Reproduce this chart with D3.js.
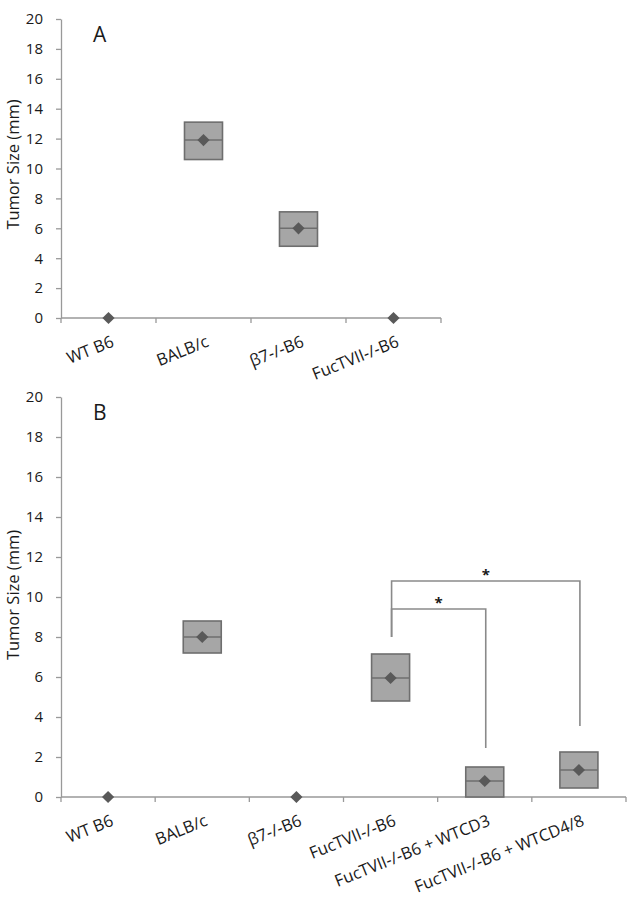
<!DOCTYPE html>
<html>
<head>
<meta charset="utf-8">
<script src="https://cdn.jsdelivr.net/npm/d3@7"></script>
<style>
  body { margin: 0; background: #fff; }
  text { font-family: "Open Sans", sans-serif; fill: #1a1a1a; }
</style>
</head>
<body>
<div id="chart"></div>
<script>
// Panel A data
var groupsA = ["WT B6", "BALB/c", "β7-/-B6", "FucTVII-/-B6"];
var meanA = [0, 11.9, 6.0, 0];
var upperA = [0, 13.1, 7.1, 0];
var lowerA = [0, 10.6, 4.8, 0];

// Panel B data
var groupsB = ["WT B6", "BALB/c", "β7-/-B6", "FucTVII-/-B6",
  "FucTVII-/-B6 + WTCD3", "FucTVII-/-B6 + WTCD4/8"];
var meanB = [0, 8.0, 0, 5.95, 0.8, 1.35];
var upperB = [0, 8.8, 0, 7.15, 1.5, 2.25];
var lowerB = [0, 7.2, 0, 4.8, 0, 0.45];

// Significance brackets in panel B (group indexes and values)
var bracketFrom = [3, 3];
var bracketTo = [4, 5];
var bracketTop = [9.4, 10.8];
var bracketLeft = [8.0, 8.0];
var bracketRight = [2.45, 3.55];

var yTicks = [0, 2, 4, 6, 8, 10, 12, 14, 16, 18, 20];

var width = 629, height = 900;
var axisColor = "#999";

var svg = d3.select("#chart").append("svg")
  .attr("width", width)
  .attr("height", height);

// Draw one panel and return its scales
function drawPanel(opts) {
  var g = svg.append("g");

  var x = d3.scaleBand()
    .domain(opts.groups)
    .range([opts.left, opts.right])
    .padding(0);

  var y = d3.scaleLinear()
    .domain([0, 20])
    .range([opts.bottom, opts.top]);

  // y axis
  var yAxis = g.append("g")
    .attr("transform", "translate(" + opts.left + ",0)")
    .call(d3.axisLeft(y).tickValues(yTicks).tickSize(5).tickSizeOuter(0).tickPadding(13));
  yAxis.select(".domain").attr("stroke", axisColor).attr("stroke-width", 1.3);
  yAxis.selectAll(".tick line").attr("stroke", axisColor).attr("stroke-width", 1.3);
  yAxis.selectAll(".tick text")
    .attr("font-family", "Open Sans, sans-serif")
    .attr("font-size", 15)
    .attr("fill", "#1a1a1a");

  // x axis line and ticks at band edges
  g.append("line")
    .attr("x1", opts.left).attr("x2", opts.right)
    .attr("y1", y(0)).attr("y2", y(0))
    .attr("stroke", axisColor).attr("stroke-width", 1.3);

  var edges = d3.range(opts.groups.length + 1).map(function (i) {
    return opts.left + i * x.step();
  });
  g.selectAll(".xtick")
    .data(edges)
    .enter().append("line")
    .attr("class", "xtick")
    .attr("x1", function (d) { return d; })
    .attr("x2", function (d) { return d; })
    .attr("y1", y(0))
    .attr("y2", y(0) + 5)
    .attr("stroke", axisColor).attr("stroke-width", 1.3);

  // rotated category labels
  g.selectAll(".xlabel")
    .data(opts.groups)
    .enter().append("text")
    .attr("class", "xlabel")
    .attr("transform", function (d) {
      return "translate(" + (x(d) + x.bandwidth() / 2 + 2) + "," + (y(0) + 17) + ") rotate(-22)";
    })
    .attr("text-anchor", "end")
    .attr("dy", "0.71em")
    .attr("font-size", 16.5)
    .text(function (d) { return d; });

  // y axis title
  g.append("text")
    .attr("transform", "translate(12," + ((opts.top + opts.bottom) / 2 + opts.titleShift) + ") rotate(-90)")
    .attr("text-anchor", "middle")
    .attr("dominant-baseline", "central")
    .attr("font-size", 16.5)
    .text("Tumor Size (mm)");

  // panel letter
  g.append("text")
    .attr("x", 93)
    .attr("y", opts.top + 23)
    .attr("font-size", 21)
    .text(opts.letter);

  // boxes
  var idx = d3.range(opts.groups.length);
  var boxW = 38;
  var withBox = idx.filter(function (i) { return opts.upper[i] > opts.lower[i]; });
  g.selectAll(".box")
    .data(withBox)
    .enter().append("rect")
    .attr("class", "box")
    .attr("x", function (i) { return x(opts.groups[i]) + x.bandwidth() / 2 - boxW / 2; })
    .attr("y", function (i) { return y(opts.upper[i]); })
    .attr("width", boxW)
    .attr("height", function (i) { return y(opts.lower[i]) - y(opts.upper[i]); })
    .attr("fill", "#a6a6a6")
    .attr("stroke", "#6e6e6e")
    .attr("stroke-width", 1.6);

  g.selectAll(".mid")
    .data(withBox)
    .enter().append("line")
    .attr("class", "mid")
    .attr("x1", function (i) { return x(opts.groups[i]) + x.bandwidth() / 2 - boxW / 2; })
    .attr("x2", function (i) { return x(opts.groups[i]) + x.bandwidth() / 2 + boxW / 2; })
    .attr("y1", function (i) { return y(opts.mean[i]); })
    .attr("y2", function (i) { return y(opts.mean[i]); })
    .attr("stroke", "#6e6e6e")
    .attr("stroke-width", 1.5);

  // diamond markers for the means
  g.selectAll(".mean")
    .data(idx)
    .enter().append("path")
    .attr("class", "mean")
    .attr("d", d3.symbol().type(d3.symbolDiamond2).size(95))
    .attr("transform", function (i) {
      return "translate(" + (x(opts.groups[i]) + x.bandwidth() / 2) + "," + y(opts.mean[i]) + ")";
    })
    .attr("fill", "#595959");

  return { g: g, x: x, y: y };
}

var panelA = drawPanel({
  groups: groupsA, mean: meanA, upper: upperA, lower: lowerA,
  left: 61, right: 441, top: 19, bottom: 318, letter: "A", titleShift: -4
});

var panelB = drawPanel({
  groups: groupsB, mean: meanB, upper: upperB, lower: lowerB,
  left: 61, right: 626, top: 397, bottom: 797, letter: "B", titleShift: -2
});

// significance brackets
var xb = panelB.x, yb = panelB.y;
function cx(i) { return xb(groupsB[i]) + xb.bandwidth() / 2 + 1; }

bracketFrom.forEach(function (f, k) {
  var t = bracketTo[k];
  var path = d3.path();
  path.moveTo(cx(f), yb(bracketLeft[k]));
  path.lineTo(cx(f), yb(bracketTop[k]));
  path.lineTo(cx(t), yb(bracketTop[k]));
  path.lineTo(cx(t), yb(bracketRight[k]));
  panelB.g.append("path")
    .attr("d", path.toString())
    .attr("fill", "none")
    .attr("stroke", "#8a8a8a")
    .attr("stroke-width", 1.6);

  panelB.g.append("text")
    .attr("x", (cx(f) + cx(t)) / 2)
    .attr("y", yb(bracketTop[k]) - 1)
    .attr("text-anchor", "middle")
    .attr("font-size", 15)
    .attr("font-weight", "bold")
    .text("*");
});
</script>
</body>
</html>
